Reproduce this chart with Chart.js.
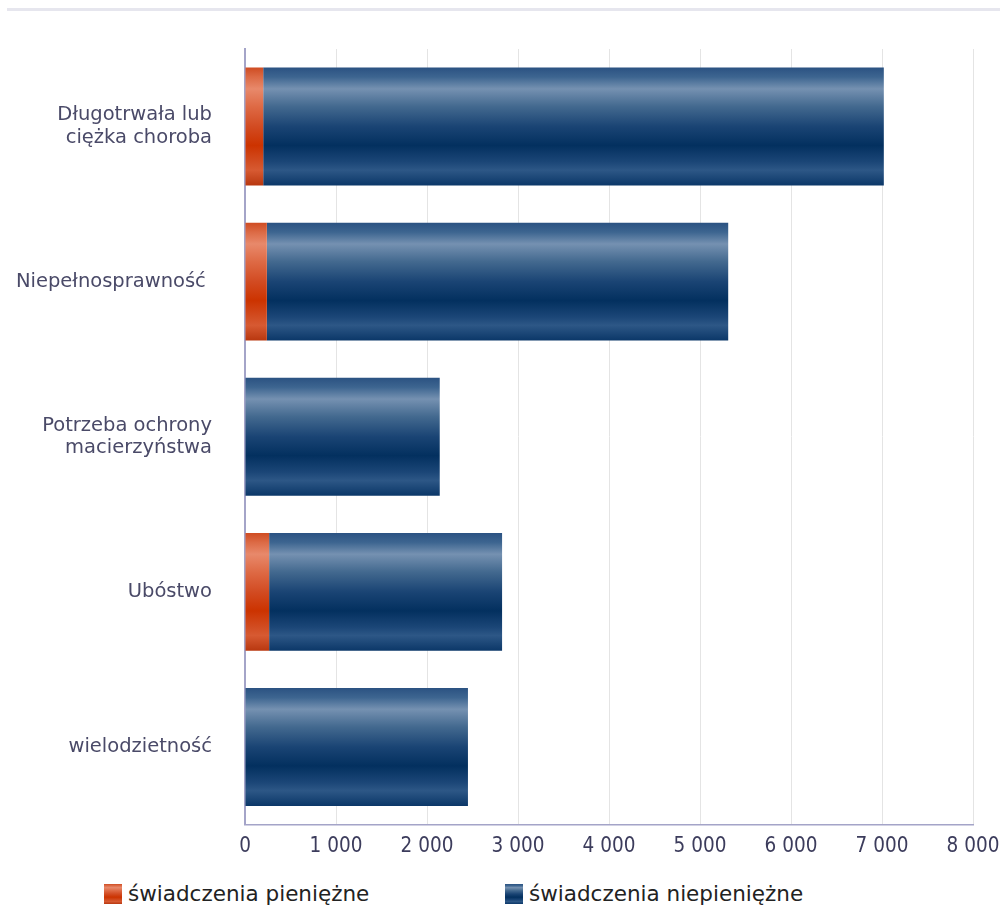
<!DOCTYPE html>
<html>
<head>
<meta charset="utf-8">
<script src="https://cdn.jsdelivr.net/npm/chart.js@4.4.1/dist/chart.umd.min.js"></script>
<style>
  html, body { margin: 0; padding: 0; background: #fff; }
  body { width: 1000px; height: 907px; position: relative; overflow: hidden; font-family: "DejaVu Sans", sans-serif; }
  .topline { position: absolute; left: 7px; right: 0; top: 8px; height: 3px; background: #e6e6ee; }
  #wrap { position: absolute; left: 0; top: 0; width: 1000px; height: 872px; }
  .legend { position: absolute; top: 881px; font-size: 21.5px; color: #222; display: flex; align-items: center; }
  .legend i { display: inline-block; width: 18px; height: 20px; margin-right: 6px; }
</style>
</head>
<body>
<div class="topline"></div>
<div id="wrap"><canvas id="chart"></canvas></div>
<div class="legend" style="left:104px"><i id="lg0"></i>świadczenia pieniężne</div>
<div class="legend" style="left:505px"><i id="lg1"></i>świadczenia niepieniężne</div>
<script>
// kategorie i wartości
const categories = [["Długotrwała lub", "ciężka choroba"], "Niepełnosprawność ", ["Potrzeba ochrony", "macierzyństwa"], "Ubóstwo", "wielodzietność"];
const cashBenefits = [200, 240, 0, 265, 0];
const nonCashBenefits = [6820, 5070, 2140, 2560, 2450];
const xTicks = [0, 1000, 2000, 3000, 4000, 5000, 6000, 7000, 8000];

// vertical glossy stops (fraction of bar height -> colour)
const BLUE_STOPS = [[0, "#2b5282"], [0.08, "#3d6590"], [0.18, "#7591b1"], [0.33, "#43698f"], [0.5, "#1a4474"], [0.66, "#03305f"], [0.8, "#1b4677"], [0.87, "#2d5786"], [1, "#0b3768"]];
const ORANGE_STOPS = [[0, "#cf4c22"], [0.08, "#dc6a45"], [0.18, "#e8896b"], [0.33, "#de6a45"], [0.5, "#d24b22"], [0.66, "#cc3300"], [0.8, "#d24d22"], [0.87, "#d75a32"], [1, "#b8370f"]];

function fmtNum(v) { return String(v).replace(/\B(?=(\d{3})+(?!\d))/g, " "); }

let gradCache = {};
function bandGradient(chart, stops, key) {
  const area = chart.chartArea, y = chart.scales.y;
  if (!area || !y) return stops[5][1];
  const sig = key + area.top + area.bottom;
  if (gradCache[key] && gradCache[key].sig === sig) return gradCache[key].g;
  const ctx = chart.ctx;
  const g = ctx.createLinearGradient(0, area.top, 0, area.bottom);
  const h = area.bottom - area.top;
  const step = h / categories.length;
  const thick = step * 0.76;
  categories.forEach((c, i) => {
    const mid = y.getPixelForValue(i);
    const top = mid - thick / 2;
    stops.forEach(([t, col]) => {
      const f = Math.min(1, Math.max(0, (top + t * thick - area.top) / h));
      g.addColorStop(f, col);
    });
  });
  gradCache[key] = { sig, g };
  return g;
}

function legendBox(el, stops) {
  el.style.background = "linear-gradient(to bottom, " + stops.map(s => s[1] + " " + (s[0] * 100) + "%").join(", ") + ")";
}
legendBox(document.getElementById("lg0"), ORANGE_STOPS);
legendBox(document.getElementById("lg1"), BLUE_STOPS);

new Chart(document.getElementById("chart"), {
  type: "bar",
  data: {
    labels: categories,
    datasets: [
      { label: "świadczenia pieniężne", data: cashBenefits, backgroundColor: (c) => bandGradient(c.chart, ORANGE_STOPS, "o") },
      { label: "świadczenia niepieniężne", data: nonCashBenefits, backgroundColor: (c) => bandGradient(c.chart, BLUE_STOPS, "b") }
    ]
  },
  options: {
    indexAxis: "y",
    responsive: true, maintainAspectRatio: false, animation: false,
    categoryPercentage: 0.76, barPercentage: 1,
    layout: { padding: { top: 49, right: 27, left: 0, bottom: 0 } },
    scales: {
      x: {
        stacked: true, min: 0, max: 8000,
        afterBuildTicks: (s) => { s.ticks = xTicks.map(v => ({ value: v })); },
        afterFit: (s) => { s.height = 46; s.paddingLeft = 0; s.paddingRight = 0; },
        grid: { color: "#e4e4e4", lineWidth: 1, drawTicks: false },
        border: { color: "#a4a4c8", width: 1.5 },
        ticks: { color: "#3c3c5c", padding: 10, font: { family: "DejaVu Sans Condensed", size: 20.5 }, callback: (v) => fmtNum(v), maxRotation: 0, autoSkip: false }
      },
      y: {
        stacked: true,
        afterFit: (s) => { s.width = 245; },
        grid: { display: false },
        border: { color: "#a4a4c8", width: 2 },
        ticks: { color: "#4a4a68", padding: 25, font: { family: "DejaVu Sans", size: 19.5, lineHeight: 1.15 } }
      }
    },
    plugins: { legend: { display: false }, tooltip: { enabled: false } }
  }
});
</script>
</body>
</html>
